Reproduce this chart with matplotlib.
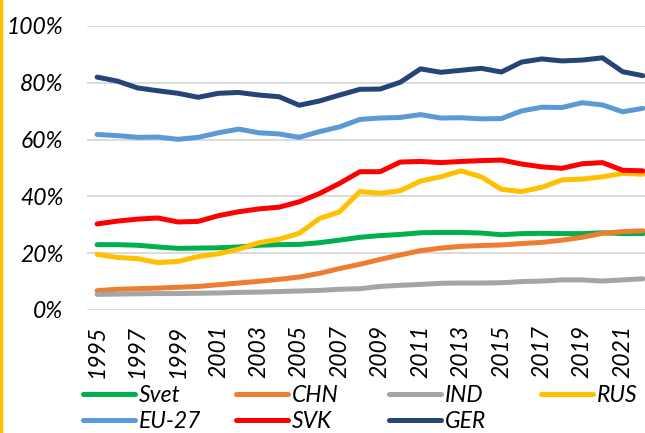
import matplotlib
matplotlib.use("Agg")
import matplotlib.pyplot as plt
from matplotlib.lines import Line2D

# --- data (shares, %)
years = list(range(1995, 2023))

svet = [23.0, 23.0, 22.8, 22.2, 21.7, 21.8, 21.9, 22.2, 22.8, 23.0, 23.1, 23.7, 24.6, 25.6,
        26.2, 26.6, 27.2, 27.3, 27.3, 27.1, 26.5, 26.9, 27.0, 26.9, 26.9, 27.2, 26.9, 26.9]
chn = [6.8, 7.3, 7.5, 7.7, 8.0, 8.3, 8.9, 9.5, 10.1, 10.8, 11.6, 12.9, 14.6, 16.1,
       17.8, 19.4, 20.9, 21.8, 22.4, 22.7, 22.9, 23.4, 23.8, 24.6, 25.6, 27.0, 27.6, 27.9]
ind = [5.5, 5.6, 5.7, 5.8, 5.8, 5.9, 6.0, 6.2, 6.3, 6.5, 6.7, 6.9, 7.3, 7.5,
       8.3, 8.7, 9.0, 9.4, 9.5, 9.5, 9.6, 10.0, 10.2, 10.6, 10.6, 10.2, 10.6, 11.0]
rus = [19.6, 18.5, 18.1, 16.7, 17.1, 18.8, 19.8, 21.4, 23.7, 24.9, 27.0, 32.2, 34.6, 41.7,
       41.1, 42.0, 45.4, 46.9, 49.0, 46.9, 42.5, 41.7, 43.2, 45.8, 46.1, 46.9, 48.1, 47.8]
eu27 = [61.8, 61.4, 60.8, 60.9, 60.1, 60.8, 62.4, 63.7, 62.4, 62.0, 60.8, 62.8, 64.5, 67.1,
        67.6, 67.8, 68.8, 67.6, 67.7, 67.3, 67.4, 70.1, 71.4, 71.3, 73.0, 72.2, 69.8, 71.0]
svk = [30.3, 31.3, 32.0, 32.4, 31.0, 31.2, 33.2, 34.6, 35.6, 36.2, 38.1, 41.0, 44.6, 48.7,
       48.7, 52.1, 52.3, 51.9, 52.3, 52.6, 52.8, 51.4, 50.4, 49.9, 51.5, 51.9, 49.2, 49.0]
ger = [82.0, 80.6, 78.2, 77.2, 76.3, 74.9, 76.3, 76.6, 75.7, 75.1, 72.1, 73.6, 75.7, 77.7,
       77.8, 80.2, 84.9, 83.7, 84.4, 85.1, 83.8, 87.3, 88.4, 87.7, 88.0, 88.8, 83.9, 82.5]

names = ["Svet", "CHN", "IND", "RUS", "EU-27", "SVK", "GER"]
series = [svet, chn, ind, rus, eu27, svk, ger]
colors = ["#00B050", "#ED7D31", "#A5A5A5", "#FFC000", "#5B9BD5", "#FF0000", "#264478"]

FONT = ['Lato', 'DejaVu Sans']
FS = 16.5
LW = 3.6

plt.rcParams['font.family'] = FONT

fig = plt.figure(figsize=(6.45, 4.33), dpi=100)
ax = fig.add_axes([87 / 645, 123 / 433, 566 / 645, 284 / 433])

# later series drawn on top (GER last)
for name, vals, c in zip(names, series, colors):
    ax.plot(years, [v / 100 for v in vals], color=c, lw=LW, solid_capstyle='round',
            solid_joinstyle='round', label=name)

ax.set_xlim(1994.5, 2022.5)
ax.set_ylim(0, 1.0)
ax.set_yticks([0, 0.2, 0.4, 0.6, 0.8, 1.0])
ax.set_yticklabels(["0%", "20%", "40%", "60%", "80%", "100%"], fontstyle='italic', fontsize=FS)
ax.set_xticks(years[::2])
ax.set_xticklabels([str(y) for y in years[::2]], rotation=90, fontstyle='italic', fontsize=FS)
ax.tick_params(axis='both', length=0)
ax.tick_params(axis='y', pad=17)
ax.tick_params(axis='x', pad=11)
ax.grid(axis='y', color='#D9D9D9', lw=1.3)
ax.set_axisbelow(True)
for s in ax.spines.values():
    s.set_visible(False)

# legend: 4 columns x 2 rows, one small legend per column to keep even spacing
col_x = [83, 236, 389, 541]
for j in range(4):
    idx = [j, j + 4] if j + 4 < len(names) else [j]
    hs = [Line2D([], [], color=colors[i], lw=LW, solid_capstyle='round') for i in idx]
    fig.legend(hs, [names[i] for i in idx], loc='upper left',
               bbox_to_anchor=(col_x[j] / 645, 1 - 385 / 433), frameon=False,
               prop={'family': FONT, 'style': 'italic', 'size': FS},
               handlelength=2.25, handletextpad=0.2, labelspacing=0.24,
               borderpad=0, borderaxespad=0)

# gold border on the left edge
fig.add_artist(Line2D([0.002, 0.002], [0, 1], color='#FFC000', lw=2.5, transform=fig.transFigure))

fig.savefig("out.png", dpi=100)
